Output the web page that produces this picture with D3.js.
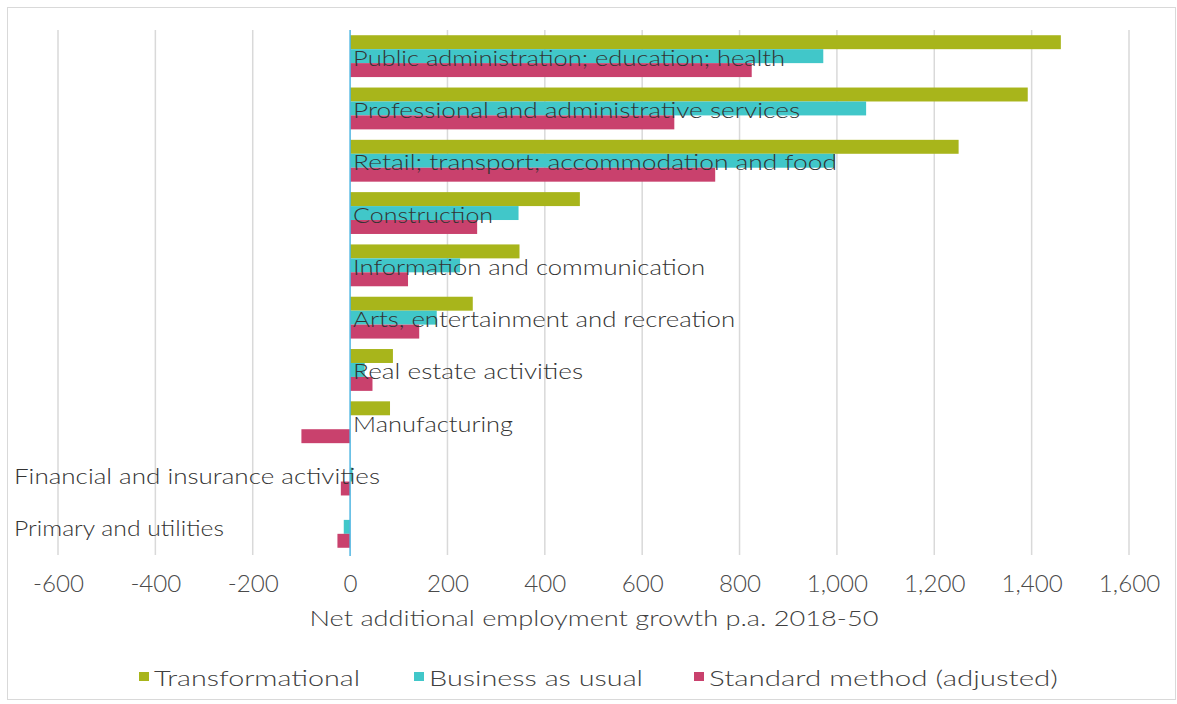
<!DOCTYPE html>
<html><head><meta charset="utf-8">
<script src="https://cdn.jsdelivr.net/npm/d3@7"></script>
<style>body{margin:0;background:#fff}svg{display:block}text{font-family:Lato,"Open Sans",sans-serif;fill:#404040;font-weight:300}</style>
</head><body><svg id="c" width="1177" height="704"></svg>
<script>
const categories = ["Public administration; education; health","Professional and administrative services","Retail; transport; accommodation and food","Construction","Information and communication","Arts, entertainment and recreation","Real estate activities","Manufacturing","Financial and insurance activities","Primary and utilities"];
const seriesNames = ["Transformational","Business as usual","Standard method (adjusted)"];
const transformational = [1460,1392,1250,472,348,252,88,82,0,0];
const businessAsUsual = [972,1060,995,346,226,178,30,0,5,-13];
const standardMethod = [825,666,750,261,119,142,46,-100,-19,-26];
const tickValues = [-600,-400,-200,0,200,400,600,800,1000,1200,1400,1600];
const axisTitle = "Net additional employment growth p.a. 2018-50";
const colors = ["#a8b51b","#41c7c9","#c9416d"];
const labelWidths = [432,447,484,140,352,382,230,160,366,210];
const legendWidths = [206,214,349];

const series = [transformational,businessAsUsual,standardMethod];
const svg = d3.select("#c");
svg.append("rect").attr("x",7.5).attr("y",7.5).attr("width",1168).attr("height",692).attr("fill","none").attr("stroke","#d9d9d9");

const x = d3.scaleLinear().domain([-600,1600]).range([58,1129]);
const y = d3.scaleBand().domain(categories).range([30,553]).paddingInner(0.2).paddingOuter(0.1);
const ys = d3.scaleBand().domain([0,1,2]).range([0,y.bandwidth()]);

svg.append("g").selectAll("line").data(tickValues.filter(t=>t!==0)).join("line")
  .attr("x1",d=>x(d)).attr("x2",d=>x(d)).attr("y1",30).attr("y2",555)
  .attr("stroke","#d9d9d9").attr("stroke-width",1.5);

categories.forEach((c,i)=>{
  series.forEach((s,j)=>{
    const v=s[i];
    svg.append("rect").attr("x",x(Math.min(0,v))).attr("width",Math.abs(x(v)-x(0)))
      .attr("y",y(c)+ys(j)).attr("height",ys.bandwidth()).attr("fill",colors[j]);
  });
});

svg.append("line").attr("x1",x(0)).attr("x2",x(0)).attr("y1",30).attr("y2",556).attr("stroke","#4fb6e2").attr("stroke-width",1.5);

categories.forEach((c,i)=>{
  const neg = transformational[i] <= 0;
  svg.append("text").attr("x",neg?14:x(0)+3).attr("y",y(c)+ys(1)+ys.bandwidth()/2+1)
    .attr("dominant-baseline","central").attr("font-size",22).style("fill","#333")
    .attr("textLength",labelWidths[i]).attr("lengthAdjust","spacingAndGlyphs").text(c);
});

const fmt = d3.format(",");
const xAxis = d3.axisBottom(x).tickValues(tickValues).tickSize(0).tickFormat(d=>fmt(d).replace("\u2212","-")).tickPadding(0);
const ag = svg.append("g").attr("transform","translate(0,583)").call(xAxis);
ag.select(".domain").remove();
ag.selectAll("text").attr("dy",null).attr("y",0).attr("dominant-baseline","central")
  .attr("font-size",23).style("font-family","Lato,sans-serif").style("font-weight","300").style("fill","#4a4a4a")
  .each(function(){const w=this.getComputedTextLength();d3.select(this).attr("textLength",w*1.05).attr("lengthAdjust","spacingAndGlyphs");});

svg.append("text").attr("x",594).attr("y",617).attr("text-anchor","middle").attr("dominant-baseline","central")
  .attr("font-size",22).attr("textLength",569).attr("lengthAdjust","spacingAndGlyphs").text(axisTitle);

const legendX=[139,414,694];
seriesNames.forEach((n,j)=>{
  svg.append("rect").attr("x",legendX[j]).attr("y",672).attr("width",10).attr("height",9).attr("fill",colors[j]);
  svg.append("text").attr("x",legendX[j]+15).attr("y",677).attr("dominant-baseline","central")
    .attr("font-size",22).attr("textLength",legendWidths[j]).attr("lengthAdjust","spacingAndGlyphs").text(n);
});
</script></body></html>
